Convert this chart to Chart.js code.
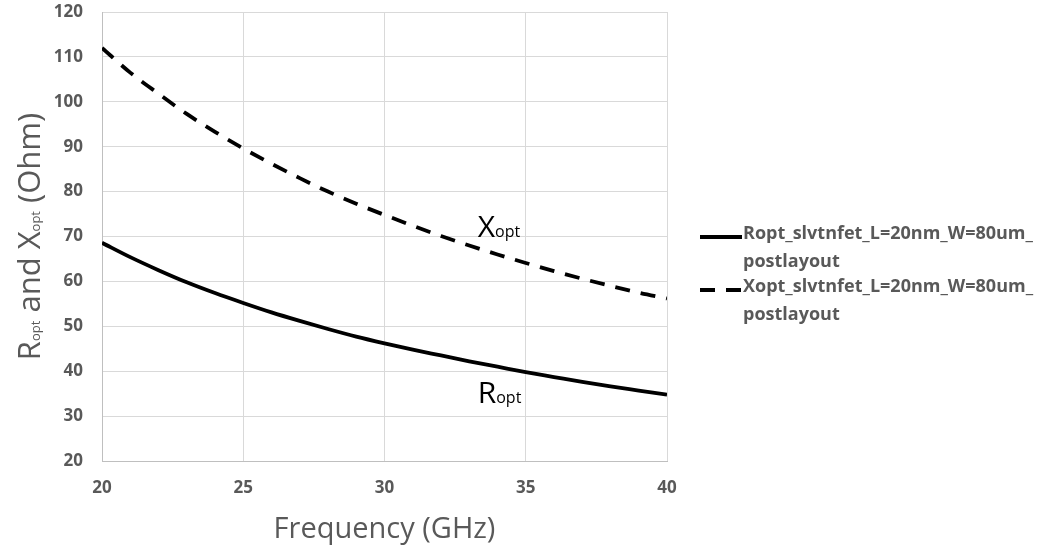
<!DOCTYPE html>
<html>
<head>
<meta charset="utf-8">
<script src="https://cdn.jsdelivr.net/npm/chart.js@4/dist/chart.umd.min.js"></script>
<style>
  html, body { margin: 0; padding: 0; background: #ffffff; }
  #wrap { width: 1044px; height: 548px; }
</style>
</head>
<body>
<div id="wrap"><canvas id="chart" width="1044" height="548"></canvas></div>
<script>
// Frequency sweep (GHz) and the optimum source impedance parts (Ohm)
const frequencyGHz = [20, 21, 22, 23, 24, 25, 26, 27, 28, 29, 30, 31, 32, 33, 34, 35, 36, 37, 38, 39, 40];
const roptOhm = [68.6, 65.4, 62.5, 59.8, 57.4, 55.2, 53.1, 51.2, 49.4, 47.7, 46.2, 44.8, 43.5, 42.2, 41.0, 39.8, 38.7, 37.6, 36.6, 35.7, 34.8];
const xoptOhm = [112.0, 106.5, 101.8, 97.3, 93.3, 89.6, 86.2, 83.0, 80.0, 77.3, 74.8, 72.4, 70.1, 68.0, 66.0, 64.1, 62.3, 60.6, 59.0, 57.5, 56.2];

// Axis ranges and tick steps
const xTickValues = [20, 25, 30, 35, 40];
const yTickValues = [20, 30, 40, 50, 60, 70, 80, 90, 100, 110, 120];

// Series names, split over two lines in the legend
const seriesNames = [
  ['Ropt_slvtnfet_L=20nm_W=80um_', 'postlayout'],
  ['Xopt_slvtnfet_L=20nm_W=80um_', 'postlayout']
];

const TEXT_GREY = '#595959';
const GRID_GREY = '#d9d9d9';
const FONT = '"Open Sans", "DejaVu Sans", sans-serif';

function toPoints(xs, ys) {
  return xs.map((x, i) => ({ x: x, y: ys[i] }));
}

// Draw a run of text pieces (normal / small "opt" parts) along one baseline
function drawRuns(ctx, runs, x, y) {
  let cx = x;
  for (const r of runs) {
    ctx.font = r.font;
    ctx.fillText(r.text, cx, y);
    cx += ctx.measureText(r.text).width;
  }
}
function runsWidth(ctx, runs) {
  let w = 0;
  for (const r of runs) { ctx.font = r.font; w += ctx.measureText(r.text).width; }
  return w;
}

const decorations = {
  id: 'decorations',
  afterDraw(chart) {
    const ctx = chart.ctx;
    const area = chart.chartArea;
    const xs = chart.scales.x, ys = chart.scales.y;
    ctx.save();
    ctx.textBaseline = 'alphabetic';
    ctx.textAlign = 'left';

    // X axis title
    ctx.fillStyle = TEXT_GREY;
    ctx.font = '29px ' + FONT;
    const xt = 'Frequency (GHz)';
    const xtw = ctx.measureText(xt).width;
    ctx.fillText(xt, (area.left + area.right) / 2 - xtw / 2, 538);

    // Y axis title, rotated, with "opt" set small
    const big = '31px ' + FONT, small = '13px ' + FONT;
    const yRuns = [
      { text: 'R', font: big }, { text: 'opt', font: small },
      { text: ' and X', font: big }, { text: 'opt', font: small },
      { text: ' (Ohm)', font: big }
    ];
    ctx.save();
    ctx.translate(40, (area.top + area.bottom) / 2);
    ctx.rotate(-Math.PI / 2);
    drawRuns(ctx, yRuns, -runsWidth(ctx, yRuns) / 2, 0);
    ctx.restore();

    // Curve labels inside the plot
    ctx.fillStyle = '#000000';
    const lblBig = '30px ' + FONT, lblSmall = '16px ' + FONT;
    drawRuns(ctx, [{ text: 'X', font: lblBig }, { text: 'opt', font: lblSmall }],
      xs.getPixelForValue(33.3), ys.getPixelForValue(70));
    drawRuns(ctx, [{ text: 'R', font: lblBig }, { text: 'opt', font: lblSmall }],
      xs.getPixelForValue(33.3), ys.getPixelForValue(33));

    // Legend on the right
    const legendX = 700, sampleLen = 42;
    const rows = [237, 290];
    chart.data.datasets.forEach((ds, i) => {
      const y = rows[i];
      ctx.strokeStyle = ds.borderColor;
      ctx.lineWidth = ds.borderWidth;
      ctx.setLineDash(ds.borderDash || []);
      ctx.lineDashOffset = 0;
      ctx.beginPath();
      ctx.moveTo(legendX, y);
      ctx.lineTo(legendX + sampleLen, y);
      ctx.stroke();
      ctx.setLineDash([]);
      ctx.fillStyle = TEXT_GREY;
      ctx.font = 'bold 18px ' + FONT;
      ctx.textBaseline = 'middle';
      seriesNames[i].forEach((line, k) => {
        ctx.fillText(line, legendX + sampleLen + 1, y - 3 + k * 28);
      });
      ctx.textBaseline = 'alphabetic';
    });
    ctx.restore();
  }
};

new Chart(document.getElementById('chart'), {
  type: 'line',
  data: {
    datasets: [
      {
        label: seriesNames[0].join(''),
        data: toPoints(frequencyGHz, roptOhm),
        borderColor: '#000000',
        borderWidth: 3.8,
        pointRadius: 0,
        cubicInterpolationMode: 'monotone',
        fill: false
      },
      {
        label: seriesNames[1].join(''),
        data: toPoints(frequencyGHz, xoptOhm),
        borderColor: '#000000',
        borderWidth: 3.8,
        borderDash: [15, 11],
        pointRadius: 0,
        cubicInterpolationMode: 'monotone',
        fill: false
      }
    ]
  },
  options: {
    responsive: false,
    animation: false,
    devicePixelRatio: 1,
    layout: { padding: { top: 12, right: 377, left: 0, bottom: 0 } },
    plugins: {
      legend: { display: false },
      tooltip: { enabled: false }
    },
    scales: {
      x: {
        type: 'linear',
        min: xTickValues[0],
        max: xTickValues[xTickValues.length - 1],
        afterBuildTicks(scale) { scale.ticks = xTickValues.map(v => ({ value: v })); },
        afterFit(scale) { scale.height = 87; scale.paddingLeft = 0; scale.paddingRight = 0; },
        grid: { color: GRID_GREY, lineWidth: 1, drawTicks: false },
        border: { color: '#bfbfbf', width: 1 },
        ticks: {
          padding: 17,
          color: TEXT_GREY,
          font: { family: FONT, size: 17, weight: 'bold' },
          maxRotation: 0
        }
      },
      y: {
        type: 'linear',
        min: yTickValues[0],
        max: yTickValues[yTickValues.length - 1],
        afterBuildTicks(scale) { scale.ticks = yTickValues.map(v => ({ value: v })); },
        afterFit(scale) { scale.width = 102; scale.paddingTop = 0; scale.paddingBottom = 0; },
        grid: { color: GRID_GREY, lineWidth: 1, drawTicks: false },
        border: { color: '#bfbfbf', width: 1 },
        ticks: {
          padding: 19,
          color: TEXT_GREY,
          font: { family: FONT, size: 17, weight: 'bold' }
        }
      }
    }
  },
  plugins: [decorations]
});
</script>
</body>
</html>
